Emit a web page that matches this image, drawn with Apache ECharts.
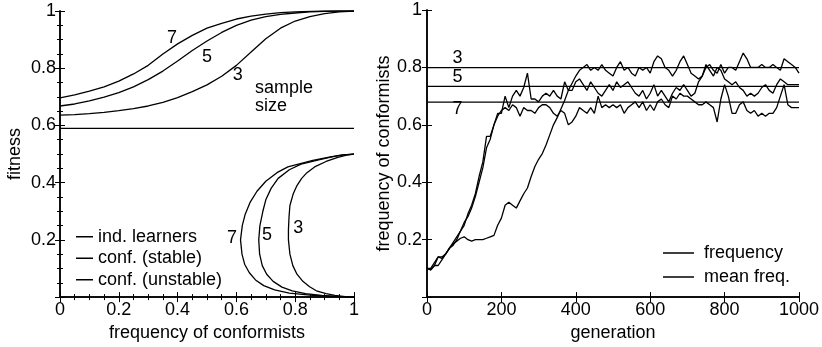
<!DOCTYPE html>
<html><head><meta charset="utf-8">
<script src="https://cdn.jsdelivr.net/npm/echarts@6/dist/echarts.min.js"></script>
<style>html,body{margin:0;padding:0;background:#fff}#c{width:822px;height:347px}</style>
</head><body><div id="c"></div>
<script>
// ---- Left panel data ----
const freqGrid = [0,0.05,0.1,0.15,0.2,0.25,0.3,0.35,0.4,0.45,0.5,0.55,0.6,0.65,0.7,0.75,0.8,0.85,0.9,0.95,1];
const stable7 = [0.696,0.707,0.72,0.735,0.755,0.78,0.81,0.85,0.885,0.915,0.94,0.957,0.972,0.982,0.989,0.994,0.997,0.999,1,1,1];
const stable5 = [0.668,0.675,0.686,0.699,0.715,0.735,0.76,0.79,0.825,0.862,0.895,0.925,0.95,0.968,0.98,0.988,0.993,0.997,0.999,1,1];
const stable3 = [0.636,0.638,0.641,0.646,0.652,0.659,0.668,0.681,0.697,0.718,0.742,0.772,0.81,0.857,0.903,0.94,0.965,0.98,0.991,0.997,1];
const indLearners = 0.59;
// unstable curves: fitness (y) and frequency (x)
const unst7Fit  = [0,0.002,0.006,0.014,0.025,0.04,0.06,0.085,0.115,0.15,0.2,0.25,0.29,0.33,0.37,0.405,0.435,0.455,0.478,0.49,0.497,0.5];
const unst7Freq = [1,0.94,0.86,0.78,0.73,0.693,0.665,0.644,0.628,0.619,0.614,0.62,0.63,0.646,0.67,0.7,0.738,0.775,0.86,0.92,0.96,1];
const unst5Fit  = [0,0.002,0.006,0.012,0.022,0.035,0.055,0.08,0.11,0.15,0.2,0.25,0.3,0.34,0.38,0.415,0.445,0.465,0.48,0.49,0.497,0.5];
const unst5Freq = [1,0.955,0.89,0.835,0.79,0.755,0.725,0.703,0.688,0.679,0.676,0.68,0.69,0.7,0.718,0.742,0.78,0.82,0.88,0.925,0.965,1];
const unst3Fit  = [0,0.002,0.006,0.012,0.022,0.036,0.055,0.08,0.11,0.15,0.2,0.235,0.28,0.32,0.36,0.39,0.415,0.435,0.455,0.474,0.488,0.496,0.5];
const unst3Freq = [1,0.97,0.935,0.905,0.872,0.849,0.826,0.806,0.792,0.782,0.777,0.777,0.779,0.782,0.793,0.806,0.822,0.84,0.866,0.905,0.945,0.975,1];
const leftLegend = ['ind. learners','conf. (stable)','conf. (unstable)'];

// ---- Right panel data ----
const genStep = 10;
const freq3 = [0.10,0.095,0.11,0.14,0.135,0.15,0.17,0.185,0.195,0.205,0.21,0.20,0.195,0.20,0.20,0.20,0.205,0.21,0.215,0.25,
  0.275,0.32,0.33,0.32,0.31,0.335,0.36,0.38,0.42,0.455,0.48,0.50,0.53,0.565,0.60,0.625,0.655,0.685,0.72,0.745,
  0.77,0.79,0.80,0.81,0.79,0.80,0.79,0.81,0.79,0.78,0.77,0.80,0.82,0.79,0.80,0.78,0.77,0.80,0.79,0.80,
  0.78,0.82,0.84,0.83,0.80,0.79,0.77,0.79,0.82,0.84,0.81,0.78,0.77,0.76,0.77,0.80,0.81,0.79,0.78,0.81,
  0.78,0.80,0.80,0.79,0.82,0.85,0.83,0.80,0.80,0.80,0.81,0.80,0.80,0.81,0.80,0.79,0.83,0.82,0.81,0.80,0.78];
const freq5 = [0.10,0.10,0.12,0.14,0.14,0.15,0.17,0.18,0.20,0.23,0.25,0.29,0.32,0.36,0.42,0.47,0.56,0.56,0.60,0.64,
  0.64,0.70,0.66,0.70,0.72,0.70,0.73,0.78,0.69,0.69,0.68,0.70,0.71,0.70,0.72,0.70,0.69,0.75,0.72,0.72,
  0.75,0.76,0.74,0.72,0.75,0.73,0.71,0.70,0.72,0.74,0.72,0.75,0.73,0.74,0.75,0.73,0.71,0.70,0.72,0.69,
  0.71,0.74,0.70,0.72,0.70,0.68,0.71,0.73,0.72,0.74,0.72,0.70,0.71,0.75,0.77,0.81,0.79,0.77,0.80,0.79,
  0.76,0.75,0.74,0.75,0.73,0.72,0.70,0.71,0.70,0.71,0.73,0.74,0.72,0.71,0.74,0.76,0.75,0.74,0.74,0.74,0.74];
const freq7 = [0.10,0.095,0.11,0.11,0.13,0.15,0.17,0.19,0.21,0.23,0.26,0.28,0.31,0.35,0.40,0.45,0.52,0.55,0.60,0.63,
  0.65,0.66,0.65,0.67,0.66,0.63,0.66,0.65,0.65,0.64,0.66,0.67,0.67,0.66,0.64,0.63,0.65,0.64,0.60,0.61,
  0.63,0.66,0.65,0.64,0.66,0.64,0.70,0.66,0.67,0.66,0.67,0.66,0.67,0.64,0.66,0.67,0.68,0.66,0.68,0.65,
  0.67,0.65,0.68,0.69,0.67,0.66,0.70,0.69,0.71,0.70,0.70,0.69,0.68,0.67,0.67,0.68,0.67,0.66,0.61,0.69,
  0.74,0.70,0.64,0.64,0.67,0.68,0.65,0.64,0.65,0.63,0.64,0.63,0.64,0.64,0.66,0.70,0.74,0.67,0.66,0.66,0.66];
const meanFreq = {m3:0.799, m5:0.734, m7:0.679};
const genMax = 1000;

// ---- build ----
const zip = (xs, ys) => xs.map((x,i)=>[x, ys[i]]);
const gens = freq3.map((_,i)=>i*genStep);
const black = '#000';
const FONT = 'Liberation Sans, Arial, sans-serif';
const lineS = (name, data, xi, yi) => ({
  type:'line', name, data, xAxisIndex:xi, yAxisIndex:yi, showSymbol:false, symbol:'none',
  color:black, lineStyle:{color:black, width:1.3}, silent:true, z:3
});
const labelSeries = (data, xi, yi, pos) => ({
  type:'scatter', data, xAxisIndex:xi, yAxisIndex:yi, symbolSize:0, silent:true,
  itemStyle:{color:black, opacity:1}, z:5,
  label:{show:true, position:pos||'inside', distance:0, color:black, opacity:1, fontSize:18, fontFamily:FONT, lineHeight:18,
    textBorderWidth:0, formatter:p=>p.value[2]}
});
const axisCommon = {
  axisLine:{lineStyle:{color:black, width:1.5}},
  axisTick:{inside:true, length:5, lineStyle:{color:black, width:1}},
  splitLine:{show:false},
  axisLabel:{color:black, fontSize:18, fontFamily:FONT, margin:4},
  nameTextStyle:{color:black, fontSize:18, fontFamily:FONT}
};
const mk = (o) => Object.assign({}, axisCommon, o);
const minorLeft = {show:true, splitNumber:4, length:3, lineStyle:{color:black, width:1}};
const numFmt = v => v===0 ? '' : String(+v.toFixed(1));

const option = {
  animation:false,
  grid:[
    {left:60, top:11, width:294, height:293},
    {left:427, top:10, width:376, height:294}
  ],
  xAxis:[
    mk({gridIndex:0, type:'value', min:0, max:1, interval:0.2, position:'bottom', minorTick:minorLeft,
        name:'frequency of conformists', nameLocation:'middle', nameGap:20}),
    mk({gridIndex:0, type:'value', min:0, max:1, interval:0.2, position:'top', minorTick:minorLeft, axisLabel:{show:false}}),
    mk({gridIndex:1, type:'value', min:0, max:genMax, interval:200, position:'bottom',
        axisLabel:Object.assign({}, axisCommon.axisLabel, {formatter:v=>String(v)}),
        name:'generation', nameLocation:'middle', nameGap:20}),
    mk({gridIndex:1, type:'value', min:0, max:genMax, interval:200, position:'top', axisLabel:{show:false}})
  ],
  yAxis:[
    mk({gridIndex:0, type:'value', min:0, max:1, interval:0.2, position:'left', minorTick:minorLeft,
        axisLabel:Object.assign({}, axisCommon.axisLabel, {formatter:numFmt}),
        name:'fitness', nameLocation:'middle', nameGap:36}),
    mk({gridIndex:0, type:'value', min:0, max:1, interval:0.2, position:'right', minorTick:minorLeft, axisLabel:{show:false}}),
    mk({gridIndex:1, type:'value', min:0, max:1, interval:0.2, position:'left',
        axisLabel:Object.assign({}, axisCommon.axisLabel, {margin:5, formatter:numFmt}),
        name:'frequency of conformists', nameLocation:'middle', nameGap:33}),
    mk({gridIndex:1, type:'value', min:0, max:1, interval:0.2, position:'right', axisLabel:{show:false}})
  ],
  legend:[
    {data:leftLegend, orient:'vertical', left:76, top:226, padding:0, icon:'rect', itemWidth:17, itemHeight:1.5, itemGap:0,
     selectedMode:false, textStyle:{color:black, fontSize:18, fontFamily:FONT, lineHeight:21.5}},
    {data:['frequency','mean freq.'], orient:'vertical', left:663, top:241, padding:0, icon:'rect', itemWidth:31, itemHeight:1.5, itemGap:0,
     selectedMode:false, textStyle:{color:black, fontSize:18, fontFamily:FONT, lineHeight:24, padding:[0,0,0,5]}}
  ],
  series:[
    lineS('ind. learners', [[0,indLearners],[1,indLearners]], 0, 0),
    lineS('conf. (stable)', zip(freqGrid, stable7), 0, 0),
    lineS('conf. (stable)', zip(freqGrid, stable5), 0, 0),
    lineS('conf. (stable)', zip(freqGrid, stable3), 0, 0),
    lineS('conf. (unstable)', zip(unst7Freq, unst7Fit), 0, 0),
    lineS('conf. (unstable)', zip(unst5Freq, unst5Fit), 0, 0),
    lineS('conf. (unstable)', zip(unst3Freq, unst3Fit), 0, 0),
    labelSeries([[0.381,0.904,'7'],[0.50,0.84,'5'],[0.605,0.775,'3'],
                 [0.585,0.205,'7'],[0.704,0.218,'5'],[0.81,0.242,'3']], 0, 0),
    labelSeries([[0.663,0.70,'sample\nsize']], 0, 0, 'right'),
    lineS('frequency', zip(gens, freq3), 2, 2),
    lineS('frequency', zip(gens, freq5), 2, 2),
    lineS('frequency', zip(gens, freq7), 2, 2),
    lineS('mean freq.', [[0,meanFreq.m3],[genMax,meanFreq.m3]], 2, 2),
    lineS('mean freq.', [[0,meanFreq.m5],[genMax,meanFreq.m5]], 2, 2),
    lineS('mean freq.', [[0,meanFreq.m7],[genMax,meanFreq.m7]], 2, 2),
    labelSeries([[82,0.833,'3'],[82,0.765,'5'],[82,0.656,'7']], 2, 2)
  ]
};
const chart = echarts.init(document.getElementById('c'), null, {renderer:'canvas'});
chart.setOption(option);
</script>
</body></html>
